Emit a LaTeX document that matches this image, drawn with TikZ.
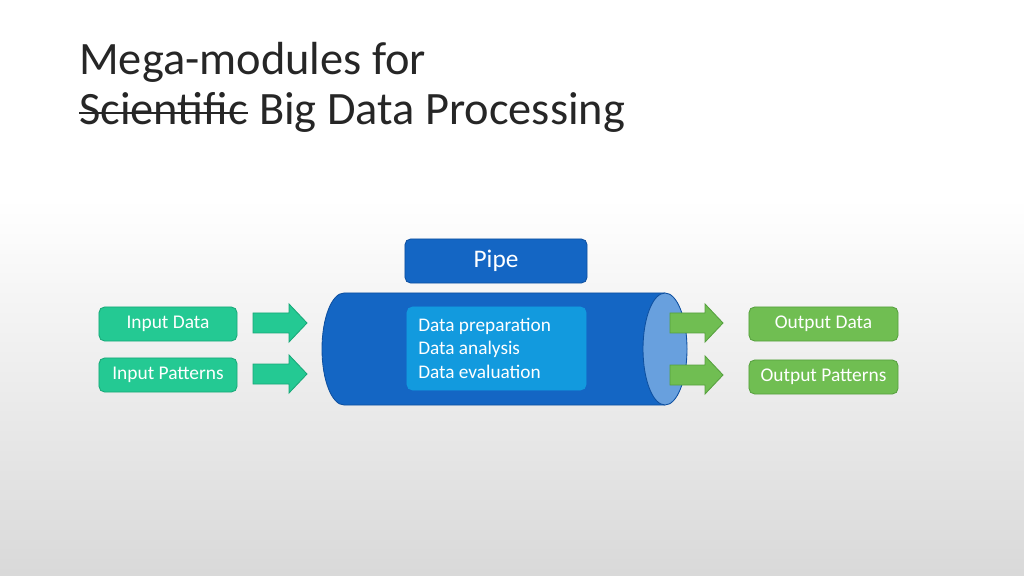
\documentclass[tikz,border=0pt]{standalone}
\usepackage{fontspec}
\setmainfont{Carlito}
\usetikzlibrary{positioning}
\definecolor{teal1}{RGB}{36,201,147}
\definecolor{teal2}{RGB}{24,168,120}
\definecolor{grn1}{RGB}{112,190,82}
\definecolor{grn2}{RGB}{86,160,62}
\definecolor{pipeblue}{RGB}{20,102,196}
\definecolor{pipeedge}{RGB}{14,80,160}
\definecolor{innerblue}{RGB}{18,154,222}
\definecolor{endblue}{RGB}{104,160,222}
\begin{document}
\begin{tikzpicture}[x=0.025cm,y=-0.025cm,
  box/.style={rounded corners=4pt, draw, line width=0.6pt, text=white, font=\fontsize{13.8pt}{15pt}\selectfont, inner sep=0pt},
  inbox/.style={box, fill=teal1, draw=teal2, minimum width=3.45cm, minimum height=0.85cm},
  outbox/.style={box, fill=grn1, draw=grn2, minimum width=3.725cm, minimum height=0.85cm},
  inarrow/.style={fill=teal1, draw=teal2, line width=0.6pt},
  outarrow/.style={fill=grn1, draw=grn2, line width=0.6pt},
  titletext/.style={anchor=base west, inner sep=0pt, font=\fontsize{33pt}{38pt}\selectfont, text=black!85}]
\useasboundingbox (0,0) rectangle (1024,576);
\fill[white] (0,0) rectangle (1024,200);
\shade[top color=white, bottom color=black!15] (0,199) rectangle (1024,576);
% title
\node[titletext] (t1) at (79,75) {Mega-modules for};
\node[titletext] (t2a) at (79,125) {Scientific};
\node[titletext, xshift=7.5pt] (t2b) at (t2a.base east) {Big Data Processing};
\draw[black!85, line width=1.2pt] (t2a.west |- 0,113) -- (t2a.east |- 0,113);
% input boxes
\node[inbox] (in1) at (168,324) {Input Data};
\node[inbox] (in2) at (168,375) {Input Patterns};
% input arrows
\foreach \c in {323,374}{
  \draw[inarrow] (253,\c-10) -- (289,\c-10) -- (289,\c-19) -- (307,\c) -- (289,\c+19) -- (289,\c+10) -- (253,\c+10) -- cycle;
}
% pipe cylinder
\fill[pipeblue] (665,293) -- (344,293) arc[start angle=270, end angle=90, x radius=22, y radius=56] -- (665,405) arc[start angle=90, end angle=-90, x radius=22, y radius=56] -- cycle;
\draw[pipeedge, line width=0.6pt] (665,293) -- (344,293) arc[start angle=270, end angle=90, x radius=22, y radius=56] -- (665,405);
\draw[pipeedge, fill=endblue, line width=0.6pt] (665,349) ellipse [x radius=22, y radius=56];
% pipe label
\node[box, fill=pipeblue, draw=pipeedge, minimum width=4.55cm, minimum height=1.1cm, font=\fontsize{18pt}{20pt}\selectfont] (pipe) at (496,261) {Pipe};
% inner box
\node[box, fill=innerblue, draw=innerblue, minimum width=4.475cm, minimum height=2.075cm] (inner) at (496.5,348.5) {};
\node[anchor=base west, align=left, inner sep=0pt, text=white, font=\fontsize{13.7pt}{16.4pt}\selectfont] (steps) at (418,378) {Data preparation\\Data analysis\\Data evaluation};
% output arrows
\foreach \c in {323,375}{
  \draw[outarrow] (670,\c-10) -- (705,\c-10) -- (705,\c-19) -- (723,\c) -- (705,\c+19) -- (705,\c+10) -- (670,\c+10) -- cycle;
}
% output boxes
\node[outbox] (out1) at (823.5,324) {Output Data};
\node[outbox] (out2) at (823.5,377) {Output Patterns};
\end{tikzpicture}
\end{document}
